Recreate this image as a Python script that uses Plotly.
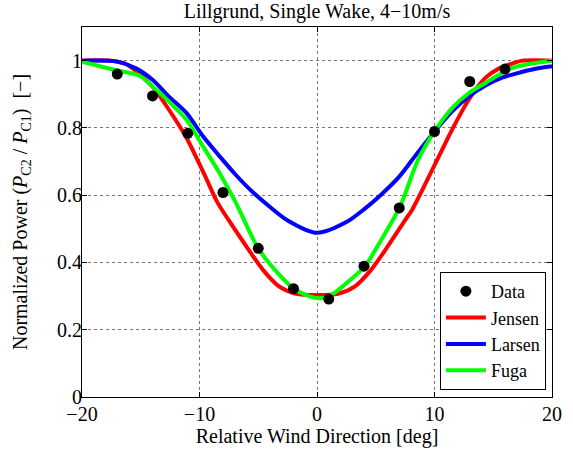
import plotly.graph_objects as go

# Measured data
data_x = [-17, -14, -11, -8, -5, -2, 1, 4, 7, 10, 13, 16]
data_y = [0.960, 0.895, 0.784, 0.608, 0.442, 0.322, 0.291, 0.389, 0.562, 0.789, 0.938, 0.975]

# Jensen model
jensen_x = [-20, -17.5, -16.5, -15.5, -14, -12.6, -11.1, -9.5, -8.5, -7.5, -6, -4.6, -3.2, -1.8, 0,
            1.8, 3.2, 4.6, 6, 7.5, 8.1, 10.1, 11.5, 12.9, 14.3, 15.5, 16.5, 17.5, 20]
jensen_y = [1.0, 1.0, 0.993, 0.972, 0.923, 0.854, 0.77, 0.655, 0.58, 0.525, 0.447, 0.378, 0.328, 0.307, 0.303,
            0.307, 0.328, 0.378, 0.447, 0.526, 0.557, 0.696, 0.795, 0.883, 0.948, 0.977, 0.99, 1.0, 1.0]

# Larsen model
larsen_x = [-20, -17, -15.4, -14, -12.6, -11.1, -9.7, -8.3, -6.9, -5.5, -4, -2.5, 0,
            2.5, 4, 5.5, 7, 8.6, 10.1, 11.5, 12.9, 14.3, 15.8, 17, 18.5, 20]
larsen_y = [1.0, 0.997, 0.977, 0.943, 0.893, 0.844, 0.775, 0.716, 0.66, 0.61, 0.565, 0.525, 0.488,
            0.52, 0.558, 0.603, 0.655, 0.728, 0.793, 0.849, 0.893, 0.925, 0.950, 0.962, 0.975, 0.983]

# Fuga model
fuga_x = [-20, -18.3, -16.9, -15.1, -14, -12.6, -11.1, -9.7, -8.3, -6.9, -5, -3.2, -2, -0.9, 0,
          1, 2.5, 4.1, 5.3, 7.05, 8.6, 10.1, 11.5, 12.9, 14.3, 15.9, 16.5, 18, 20]
fuga_y = [0.997, 0.982, 0.97, 0.955, 0.923, 0.878, 0.824, 0.745, 0.666, 0.577, 0.442, 0.363, 0.323, 0.303, 0.294,
          0.299, 0.338, 0.39, 0.457, 0.565, 0.705, 0.795, 0.859, 0.903, 0.933, 0.967, 0.977, 0.99, 1.0]

x_ticks = [-20, -10, 0, 10, 20]
y_ticks = [0, 0.2, 0.4, 0.6, 0.8, 1]

FONT = "Liberation Serif"
FS = 20

fig = go.Figure()
fig.add_trace(go.Scatter(x=jensen_x, y=jensen_y, mode="lines", name="Jensen", legendrank=2,
                         line=dict(color="#ff0000", width=4, shape="spline", smoothing=0.8)))
fig.add_trace(go.Scatter(x=larsen_x, y=larsen_y, mode="lines", name="Larsen", legendrank=3,
                         line=dict(color="#0000ff", width=4, shape="spline", smoothing=0.8)))
fig.add_trace(go.Scatter(x=fuga_x, y=fuga_y, mode="lines", name="Fuga", legendrank=4,
                         line=dict(color="#00ff00", width=4, shape="spline", smoothing=0.8)))
fig.add_trace(go.Scatter(x=data_x, y=data_y, mode="markers", name="Data", legendrank=1,
                         marker=dict(color="black", size=11)))

axis_common = dict(
    showline=True, linecolor="black", linewidth=1, mirror="ticks",
    ticks="inside", ticklen=5, tickcolor="black",
    showgrid=True, gridcolor="#777777", griddash="dot", gridwidth=1,
    zeroline=False, tickfont=dict(family=FONT, size=FS, color="black"),
)

fig.update_layout(
    width=573, height=453,
    margin=dict(l=82, r=21, t=27, b=56),
    paper_bgcolor="white", plot_bgcolor="white",
    font=dict(family=FONT, size=FS, color="black"),
    title=dict(text="Lillgrund, Single Wake, 4\u221210m/s", x=0.5, xref="paper", xanchor="center",
               y=0.976, yanchor="middle", font=dict(family=FONT, size=FS, color="black")),
    xaxis=dict(range=[-20, 20], tickvals=x_ticks, ticklabelstandoff=-1,
               title=dict(text="Relative Wind Direction [deg]", standoff=0,
                          font=dict(family=FONT, size=FS)),
               **axis_common),
    yaxis=dict(range=[0, 1.1], tickvals=y_ticks, ticklabelstandoff=-5,
               title=dict(text="Normalized Power (<i>P</i><sub>C2</sub> / <i>P</i><sub>C1</sub>)  [\u2212]",
                          standoff=24, font=dict(family=FONT, size=FS)),
               **axis_common),
    legend=dict(x=0.987, y=0.019, xanchor="right", yanchor="bottom",
                bgcolor="white", bordercolor="black", borderwidth=1,
                font=dict(family=FONT, size=18, color="black"),
                traceorder="normal", tracegroupgap=0, itemwidth=40),
    showlegend=True,
)

fig.write_html("out.html")
